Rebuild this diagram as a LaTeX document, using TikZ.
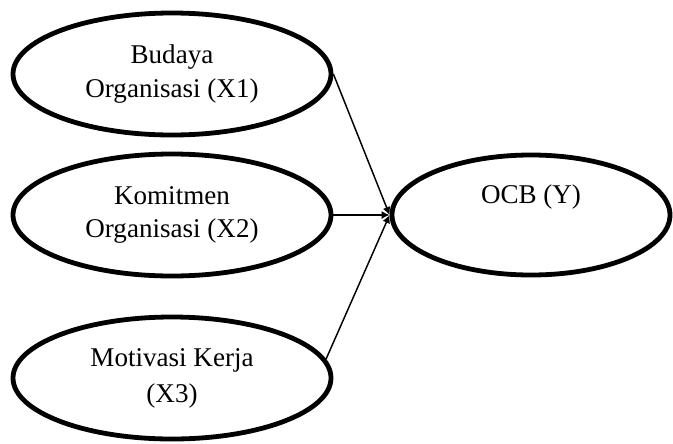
\documentclass[tikz,border=0pt]{standalone}
\usepackage{fontspec}
\setmainfont{Liberation Serif}
\usetikzlibrary{shapes.geometric,arrows.meta}
\begin{document}
\begin{tikzpicture}[x=0.75pt,y=-0.75pt,
  var/.style={draw,ellipse,line width=3.6pt,inner sep=0pt,align=center,
    minimum width=238.5pt,minimum height=91.5pt,font=\fontsize{20.3}{25}\selectfont},
  link/.style={-{Latex[length=6pt,width=6pt]},line width=1.1pt}]
\useasboundingbox (0,0) rectangle (673,443);
\node[var](x1) at (172,74) {Budaya\\Organisasi (X1)};
\node[var](x2) at (172,215) {Komitmen\\Organisasi (X2)};
\node[var](x3) at (172,378) {Motivasi Kerja\\[2pt](X3)};
\node[var,minimum width=208.5pt,minimum height=90pt](y) at (531,215) {OCB (Y)\\[6pt]};
\draw[link] (x1.east) -- (y.west);
\draw[link] (x2.east) -- (y.west);
\draw[link] (x3.7) -- (y.west);
\end{tikzpicture}
\end{document}
